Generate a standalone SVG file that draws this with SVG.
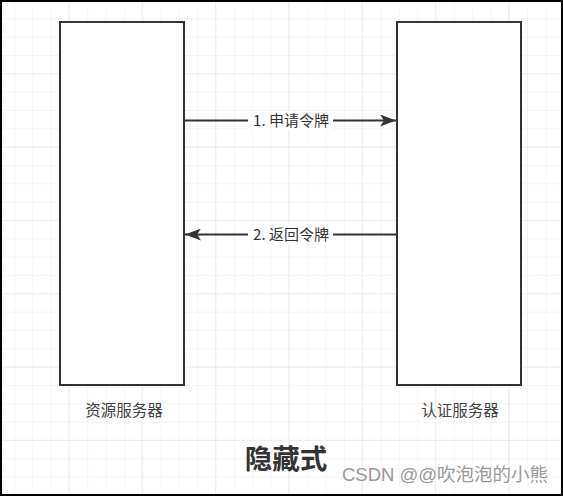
<svg xmlns="http://www.w3.org/2000/svg" width="563" height="496" viewBox="0 0 563 496">
<defs>
<pattern id="g" x="14" y="0" width="18.33" height="18.33" patternUnits="userSpaceOnUse">
<path d="M0 0V18.33M0 0H18.33" fill="none" stroke="#ececec" stroke-width="1"/>
</pattern>
<pattern id="G" x="-5" y="0" width="73.3" height="73.3" patternUnits="userSpaceOnUse">
<path d="M0 0V73.3M0 0H73.3" fill="none" stroke="#e2e2e2" stroke-width="1"/>
</pattern>
<marker id="arr" viewBox="0 0 16 12" refX="16" refY="6" markerWidth="16" markerHeight="12" orient="auto" markerUnits="userSpaceOnUse">
<path d="M0 0L16 6L0 12L4 6Z" fill="#333"/>
</marker>
<style>
.box{fill:#fff;stroke:#333;stroke-width:2}
.edge{stroke:#333;stroke-width:2;fill:none}
.lbl{font-family:"Noto Sans CJK SC","Liberation Sans",sans-serif;font-size:15px;fill:#333;text-anchor:middle}
.cap{font-family:"Noto Sans CJK SC","Liberation Sans",sans-serif;font-size:15.5px;fill:#444;text-anchor:middle}
</style>
</defs>
<rect width="563" height="496" fill="#fff"/>
<rect width="563" height="496" fill="url(#g)"/>
<rect width="563" height="496" fill="url(#G)"/>
<rect x="1" y="1" width="561" height="494" fill="none" stroke="#000" stroke-width="2"/>
<g id="resource-server">
<rect class="box" x="60" y="22" width="124" height="363"/>
<text class="cap" x="124" y="416">资源服务器</text>
</g>
<g id="auth-server">
<rect class="box" x="397" y="22" width="124" height="363"/>
<text class="cap" x="460" y="416">认证服务器</text>
</g>
<g id="connectors">
<line class="edge" x1="184" y1="120.5" x2="396" y2="120.5" marker-end="url(#arr)"/>
<rect x="248" y="111" width="85" height="19" fill="#fff"/>
<text class="lbl" x="291" y="126">1. 申请令牌</text>
<line class="edge" x1="397" y1="234.5" x2="185" y2="234.5" marker-end="url(#arr)"/>
<rect x="248" y="225" width="85" height="19" fill="#fff"/>
<text class="lbl" x="291" y="240">2. 返回令牌</text>
</g>
<g id="title">
<text x="286" y="469" font-family="Noto Sans CJK SC,sans-serif" font-size="27.5" font-weight="bold" fill="#333" text-anchor="middle">隐藏式</text>
</g>
<text x="342" y="481" font-family="Liberation Sans,Noto Sans CJK SC,sans-serif" font-size="18.5" fill="#999">CSDN @@吹泡泡的小熊</text>
</svg>
